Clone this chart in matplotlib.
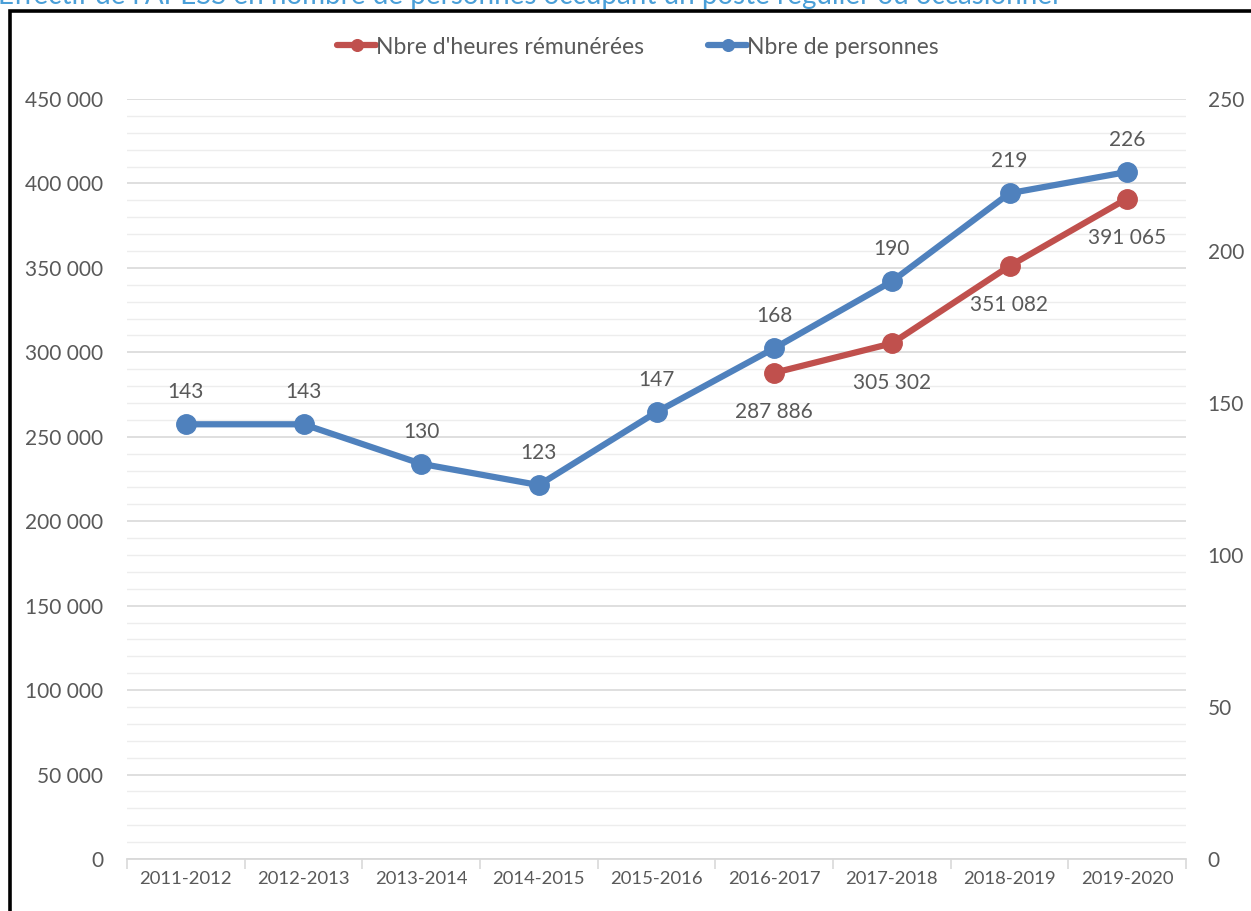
import matplotlib
matplotlib.use("Agg")
import matplotlib.pyplot as plt
import matplotlib.patches as patches
from matplotlib.ticker import FixedLocator, MultipleLocator, FuncFormatter

categories = ["2011-2012", "2012-2013", "2013-2014", "2014-2015", "2015-2016",
              "2016-2017", "2017-2018", "2018-2019", "2019-2020"]
personnes = [143, 143, 130, 123, 147, 168, 190, 219, 226]
heures_idx = [5, 6, 7, 8]
heures = [287886, 305302, 351082, 391065]

title = "Effectif de l'APESS en nombre de personnes occupant un poste régulier ou occasionnel"
label_heures = "Nbre d'heures rémunérées"
label_personnes = "Nbre de personnes"

RED = "#C0504D"
BLUE = "#4F81BD"
TXT = "#595959"

plt.rcParams['font.family'] = ['Lato', 'DejaVu Sans']

W, H = 1251, 911
fig = plt.figure(figsize=(W / 100, H / 100), dpi=100)

def fx(px):
    return px / W

def fy(py):
    return 1 - py / H

# axes: plot area x 127..1186, y 99..859
ax = fig.add_axes([fx(127), fy(859), fx(1186) - fx(127), fy(99) - fy(859)])
ax2 = ax.twinx()

x = list(range(len(categories)))
ax.set_xlim(-0.5, len(categories) - 0.5)
ax.set_ylim(0, 450000)
ax2.set_ylim(0, 250)

def fmt_space(v, pos=None):
    return f"{int(v):,}".replace(",", " ")

ax.yaxis.set_major_locator(MultipleLocator(50000))
ax.yaxis.set_minor_locator(MultipleLocator(10000))
ax.yaxis.set_major_formatter(FuncFormatter(fmt_space))
ax.grid(which='major', axis='y', color='#D9D9D9', linewidth=1.2)
ax.grid(which='minor', axis='y', color='#EDEDED', linewidth=1.0)
ax.set_axisbelow(True)
ax.tick_params(axis='y', which='both', length=0, labelsize=15, labelcolor=TXT, pad=17)

ax2.yaxis.set_major_locator(MultipleLocator(50))
ax2.tick_params(axis='y', length=0, labelsize=15, labelcolor=TXT, pad=15.5)

# x axis
ax.set_xticks(x)
ax.set_xticklabels(categories)
ax.tick_params(axis='x', which='major', length=0, labelsize=13.3, labelcolor=TXT, pad=9)
ax.xaxis.set_minor_locator(FixedLocator([i - 0.5 for i in range(len(categories) + 1)]))
ax.tick_params(axis='x', which='minor', length=7, width=1.2, color='#D9D9D9', direction='out')

for a in (ax, ax2):
    for s in ('top', 'right', 'left', 'bottom'):
        a.spines[s].set_visible(False)
ax.spines['bottom'].set_visible(True)
ax.spines['bottom'].set_color('#D9D9D9')
ax.spines['bottom'].set_linewidth(1.3)

l1, = ax.plot(heures_idx, heures, color=RED, linewidth=4.5, marker='o',
              markersize=14, solid_capstyle='round', label=label_heures, zorder=3)
l2, = ax2.plot(x, personnes, color=BLUE, linewidth=4.5, marker='o',
               markersize=14, solid_capstyle='round', label=label_personnes, zorder=3)

for i, v in zip(heures_idx, heures):
    ax.annotate(fmt_space(v), (i, v), xytext=(0, -21), textcoords='offset points',
                ha='center', va='top', fontsize=15, color=TXT)
for i, v in zip(x, personnes):
    ax2.annotate(str(v), (i, v), xytext=(0, 16), textcoords='offset points',
                 ha='center', va='bottom', fontsize=15, color=TXT)

leg = fig.legend(handles=[l1, l2], loc='center', bbox_to_anchor=(fx(638), fy(47)),
                 ncol=2, frameon=False, fontsize=16.5, labelcolor=TXT,
                 handlelength=1.7, handletextpad=0.0, columnspacing=2.8,
                 markerscale=0.6)

fig.text(fx(-2), fy(4), title, ha='left', va='baseline', fontsize=20, color='#4A9FD8')

rect = patches.Rectangle((fx(10), fy(930)), fx(1260) - fx(10), fy(11) - fy(930),
                         transform=fig.transFigure, fill=False, edgecolor='black',
                         linewidth=2.6, clip_on=False)
fig.patches.append(rect)

fig.savefig("out.png", dpi=100)
